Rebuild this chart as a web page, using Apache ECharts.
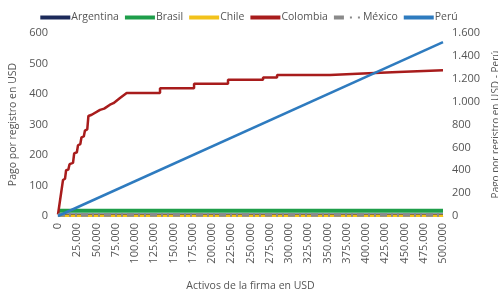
<!DOCTYPE html>
<html>
<head>
<meta charset="utf-8">
<script src="https://cdn.jsdelivr.net/npm/echarts@6/dist/echarts.min.js"></script>
<style>
html, body { margin:0; padding:0; background:#fff; }
#chart { width:498px; height:296px; }
</style>
</head>
<body>
<div id="chart"></div>
<script>
// series names
var paises = ['Argentina', 'Brasil', 'Chile', 'Colombia', 'México', 'Perú'];

// activos de la firma (USD) / pago por registro (USD)
var argentina = [[0, 4], [500000, 4]];
var brasil = [[0, 17], [500000, 17]];
var chile = [[0, 1], [500000, 1]];
var mexico = [[0, 3], [500000, 3]];
var colombia = [
    [0, 5], [6500, 118], [9100, 122], [10500, 150], [13400, 152], [15000, 170],
    [19500, 174], [21000, 205], [24500, 209], [26000, 232], [29000, 236],
    [30500, 258], [33500, 261], [35000, 280], [38000, 284], [39500, 328],
    [43800, 332], [45900, 337], [54600, 348], [60000, 352], [67500, 365],
    [72000, 370], [80500, 387], [89200, 403], [132500, 403], [132500, 419],
    [176700, 419], [176700, 434], [220800, 434], [220800, 447], [266300, 447],
    [266300, 454], [284500, 454], [284500, 462], [353300, 462], [353300, 467],
    [396200, 467], [396200, 472], [441700, 472], [441700, 478], [500000, 478]
];
// eje derecho
var peru = [[0, 0], [500000, 1520]];

var colores = ['#1c2a5a', '#1e9e4a', '#f2c21b', '#a81c1c', '#8a8a8a', '#2e7bbf'];

function miles(v) {
    return String(v).replace(/\B(?=(\d{3})+(?!\d))/g, '.');
}

var myChart = echarts.init(document.getElementById('chart'));

var txt = '#555';
var font = 'Open Sans';

var option = {
    animation: false,
    color: colores,
    textStyle: { fontFamily: font, color: txt },
    legend: {
        top: 7,
        left: 'center',
        itemGap: 6,
        itemWidth: 30,
        itemHeight: 4,
        textStyle: { fontSize: 10.5, color: txt, padding: [0, 0, 0, -4] },
        data: [
            { name: 'Argentina', icon: 'rect' },
            { name: 'Brasil', icon: 'rect' },
            { name: 'Chile', icon: 'rect' },
            { name: 'Colombia', icon: 'rect' },
            { name: 'México', icon: 'path://M0,0H10V4H0Z M16,1H18V3H16Z M24,1H26V3H24Z' },
            { name: 'Perú', icon: 'rect' }
        ]
    },
    grid: { left: 58, right: 55, top: 33, bottom: 80, outerBoundsMode: 'none', containLabel: false },
    xAxis: {
        type: 'value',
        min: 0,
        max: 500000,
        interval: 25000,
        name: 'Activos de la firma en USD',
        nameLocation: 'middle',
        nameGap: 65,
        nameTextStyle: { fontSize: 10.5, color: txt },
        axisLine: { show: true, lineStyle: { color: '#ccc' } },
        axisTick: { show: false },
        splitLine: { show: false },
        axisLabel: { rotate: 90, margin: 7, fontSize: 11, color: txt, formatter: miles }
    },
    yAxis: [{
        type: 'value',
        min: 0,
        max: 600,
        interval: 100,
        name: 'Pago por registro en USD',
        nameLocation: 'middle',
        nameRotate: 90,
        nameGap: 38,
        nameTextStyle: { fontSize: 10.5, color: txt },
        axisLine: { show: false },
        axisTick: { show: false },
        splitLine: { show: false },
        axisLabel: { margin: 10, fontSize: 11, color: txt }
    }, {
        type: 'value',
        min: 0,
        max: 1600,
        interval: 200,
        position: 'right',
        name: 'Pago por registro en USD - Perú',
        nameLocation: 'middle',
        nameRotate: 90,
        nameGap: 38,
        nameTextStyle: { fontSize: 10, color: txt },
        axisLine: { show: false },
        axisTick: { show: false },
        splitLine: { show: false },
        axisLabel: { margin: 9, fontSize: 11, color: txt, formatter: miles }
    }],
    series: [
        { name: paises[0], type: 'line', data: argentina, symbol: 'none', lineStyle: { width: 2.5 } },
        { name: paises[1], type: 'line', data: brasil, symbol: 'none', lineStyle: { width: 4 } },
        { name: paises[2], type: 'line', data: chile, symbol: 'none', lineStyle: { width: 2.5 } },
        { name: paises[3], type: 'line', data: colombia, symbol: 'none', lineStyle: { width: 2.5 } },
        { name: paises[4], type: 'line', data: mexico, symbol: 'none',
          lineStyle: { width: 3.5, type: [7, 4, 2, 4, 2, 4] } },
        { name: paises[5], type: 'line', data: peru, symbol: 'none', yAxisIndex: 1, lineStyle: { width: 2.5 } }
    ]
};

myChart.setOption(option);
</script>
</body>
</html>
